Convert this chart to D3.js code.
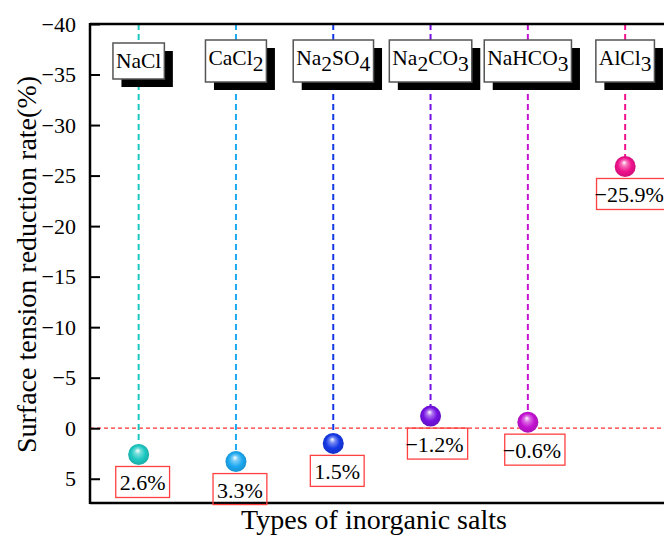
<!DOCTYPE html>
<html>
<head>
<meta charset="utf-8">
<script src="https://cdn.jsdelivr.net/npm/d3@7"></script>
<style>
  html, body { margin: 0; padding: 0; background: #fff; }
  svg { display: block; font-family: "Liberation Serif", "Times New Roman", serif; }
</style>
</head>
<body>
<svg id="chart" width="664" height="536"></svg>
<script>
// Salt names (digits are drawn as subscripts)
const salts = ["NaCl", "CaCl2", "Na2SO4", "Na2CO3", "NaHCO3", "AlCl3"];
// Surface tension reduction rate (%) per salt
const rates = [2.6, 3.3, 1.5, -1.2, -0.6, -25.9];
// Marker / stem colours per salt
const colors = ["#1ec8c2", "#1ca8f0", "#1538e6", "#7412e2", "#c412d2", "#f0128c"];
// Y-axis tick values
const yTicks = [-40, -35, -30, -25, -20, -15, -10, -5, 0, 5];

const svg = d3.select("#chart");
const plotLeft = 90, plotTop = 24, plotBottom = 503, step = 97.3;

const y = d3.scaleLinear().domain([-40, 7.4]).range([plotTop, plotBottom]);
const x = d3.scaleBand().domain(salts).range([plotLeft, plotLeft + step * salts.length]).padding(0);
const cx = d => x(d) + x.bandwidth() / 2;

const defs = svg.append("defs");
colors.forEach((c, i) => {
  const g = defs.append("radialGradient")
    .attr("id", "ball" + i)
    .attr("cx", "50%").attr("cy", "50%").attr("r", "55%")
    .attr("fx", "45%").attr("fy", "30%");
  g.append("stop").attr("offset", "0%").attr("stop-color", "#ffffff");
  g.append("stop").attr("offset", "25%").attr("stop-color", d3.interpolateRgb("#ffffff", c)(0.6));
  g.append("stop").attr("offset", "60%").attr("stop-color", c);
  g.append("stop").attr("offset", "100%").attr("stop-color", d3.color(c).darker(0.5));
});

// zero reference line
svg.append("line")
  .attr("x1", plotLeft).attr("x2", 664)
  .attr("y1", y(0)).attr("y2", y(0))
  .attr("stroke", "#ff3030").attr("stroke-width", 1.2)
  .attr("stroke-dasharray", "4,3");

// dashed stems from the top frame down to each marker
svg.selectAll(".stem").data(salts).enter().append("line")
  .attr("class", "stem")
  .attr("x1", d => cx(d)).attr("x2", d => cx(d))
  .attr("y1", plotTop).attr("y2", (d, i) => y(rates[i]))
  .attr("stroke", (d, i) => colors[i])
  .attr("stroke-width", 2)
  .attr("stroke-dasharray", "6,4");

// left axis with inward ticks
const yAxis = d3.axisLeft(y).tickValues(yTicks).tickSizeInner(-10).tickSizeOuter(0)
  .tickPadding(14)
  .tickFormat(d => d < 0 ? "\u2212" + Math.abs(d) : String(d));
const ga = svg.append("g").attr("transform", `translate(${plotLeft},0)`).call(yAxis);
ga.select(".domain").remove();
ga.selectAll(".tick line").attr("stroke", "#000").attr("stroke-width", 2);
ga.selectAll(".tick text").attr("font-size", 22).attr("fill", "#000")
  .attr("font-family", "Liberation Serif, serif");

// frame lines
svg.append("line").attr("x1", plotLeft).attr("x2", plotLeft).attr("y1", plotTop - 1).attr("y2", plotBottom + 1)
  .attr("stroke", "#000").attr("stroke-width", 2.5);
svg.append("line").attr("x1", plotLeft).attr("x2", 664).attr("y1", plotTop).attr("y2", plotTop)
  .attr("stroke", "#000").attr("stroke-width", 2.5);
svg.append("line").attr("x1", plotLeft).attr("x2", 664).attr("y1", plotBottom).attr("y2", plotBottom)
  .attr("stroke", "#000").attr("stroke-width", 2.5);

// category name boxes with drop shadows
function addFormula(sel, name) {
  const parts = name.match(/[A-Za-z]+|\d+/g);
  let shifted = false;
  parts.forEach(p => {
    const isNum = /\d/.test(p);
    const t = sel.append("tspan").text(p);
    if (isNum && !shifted) { t.attr("dy", 6); shifted = true; }
    else if (!isNum && shifted) { t.attr("dy", -6); shifted = false; }
  });
}
const boxMid = 61;
salts.forEach((s, i) => {
  const g = svg.append("g");
  const t = g.append("text")
    .attr("x", cx(s)).attr("y", 68)
    .attr("text-anchor", "middle")
    .attr("font-size", 21.5).attr("fill", "#000");
  addFormula(t, s);
  let bb = t.node().getBBox();
  // centre the box vertically on boxMid
  const shift = boxMid - (bb.y + bb.height / 2);
  t.attr("y", 68 + shift);
  bb = t.node().getBBox();
  const bx = bb.x - 3, by = bb.y - 6, bw = bb.width + 6, bh = bb.height + 12;
  g.insert("rect", "text").attr("x", bx + 8.5).attr("y", by + 8).attr("width", bw).attr("height", bh)
    .attr("fill", "#000");
  g.insert("rect", "text").attr("x", bx).attr("y", by).attr("width", bw).attr("height", bh)
    .attr("fill", "#fff").attr("stroke", "#555").attr("stroke-width", 1.5);
});

// markers
svg.selectAll(".ball").data(salts).enter().append("circle")
  .attr("class", "ball")
  .attr("cx", d => cx(d)).attr("cy", (d, i) => y(rates[i]))
  .attr("r", 10.5)
  .attr("fill", (d, i) => `url(#ball${i})`);

// value labels in red boxes
salts.forEach((s, i) => {
  const v = rates[i];
  const g = svg.append("g");
  const txt = (v < 0 ? "\u2212" : "") + Math.abs(v).toFixed(1) + "%";
  const t = g.append("text")
    .attr("x", cx(s) + 4).attr("y", y(v) + 36)
    .attr("text-anchor", "middle")
    .attr("font-size", 22).attr("fill", "#000")
    .text(txt);
  const bb = t.node().getBBox();
  const padL = v < 0 ? -2 : 4;
  g.insert("rect", "text")
    .attr("x", bb.x - padL).attr("y", y(v) + 12)
    .attr("width", bb.width + padL + 4).attr("height", 31)
    .attr("fill", "none").attr("stroke", "#ff4040").attr("stroke-width", 1.3);
});

// axis titles
svg.append("text")
  .attr("transform", `translate(36,${(plotTop + plotBottom) / 2 + 1}) rotate(-90)`)
  .attr("text-anchor", "middle").attr("font-size", 28).attr("fill", "#000")
  .text("Surface tension reduction rate(%)");
svg.append("text")
  .attr("x", 374).attr("y", 529)
  .attr("text-anchor", "middle").attr("font-size", 28).attr("fill", "#000")
  .text("Types of inorganic salts");
</script>
</body>
</html>
